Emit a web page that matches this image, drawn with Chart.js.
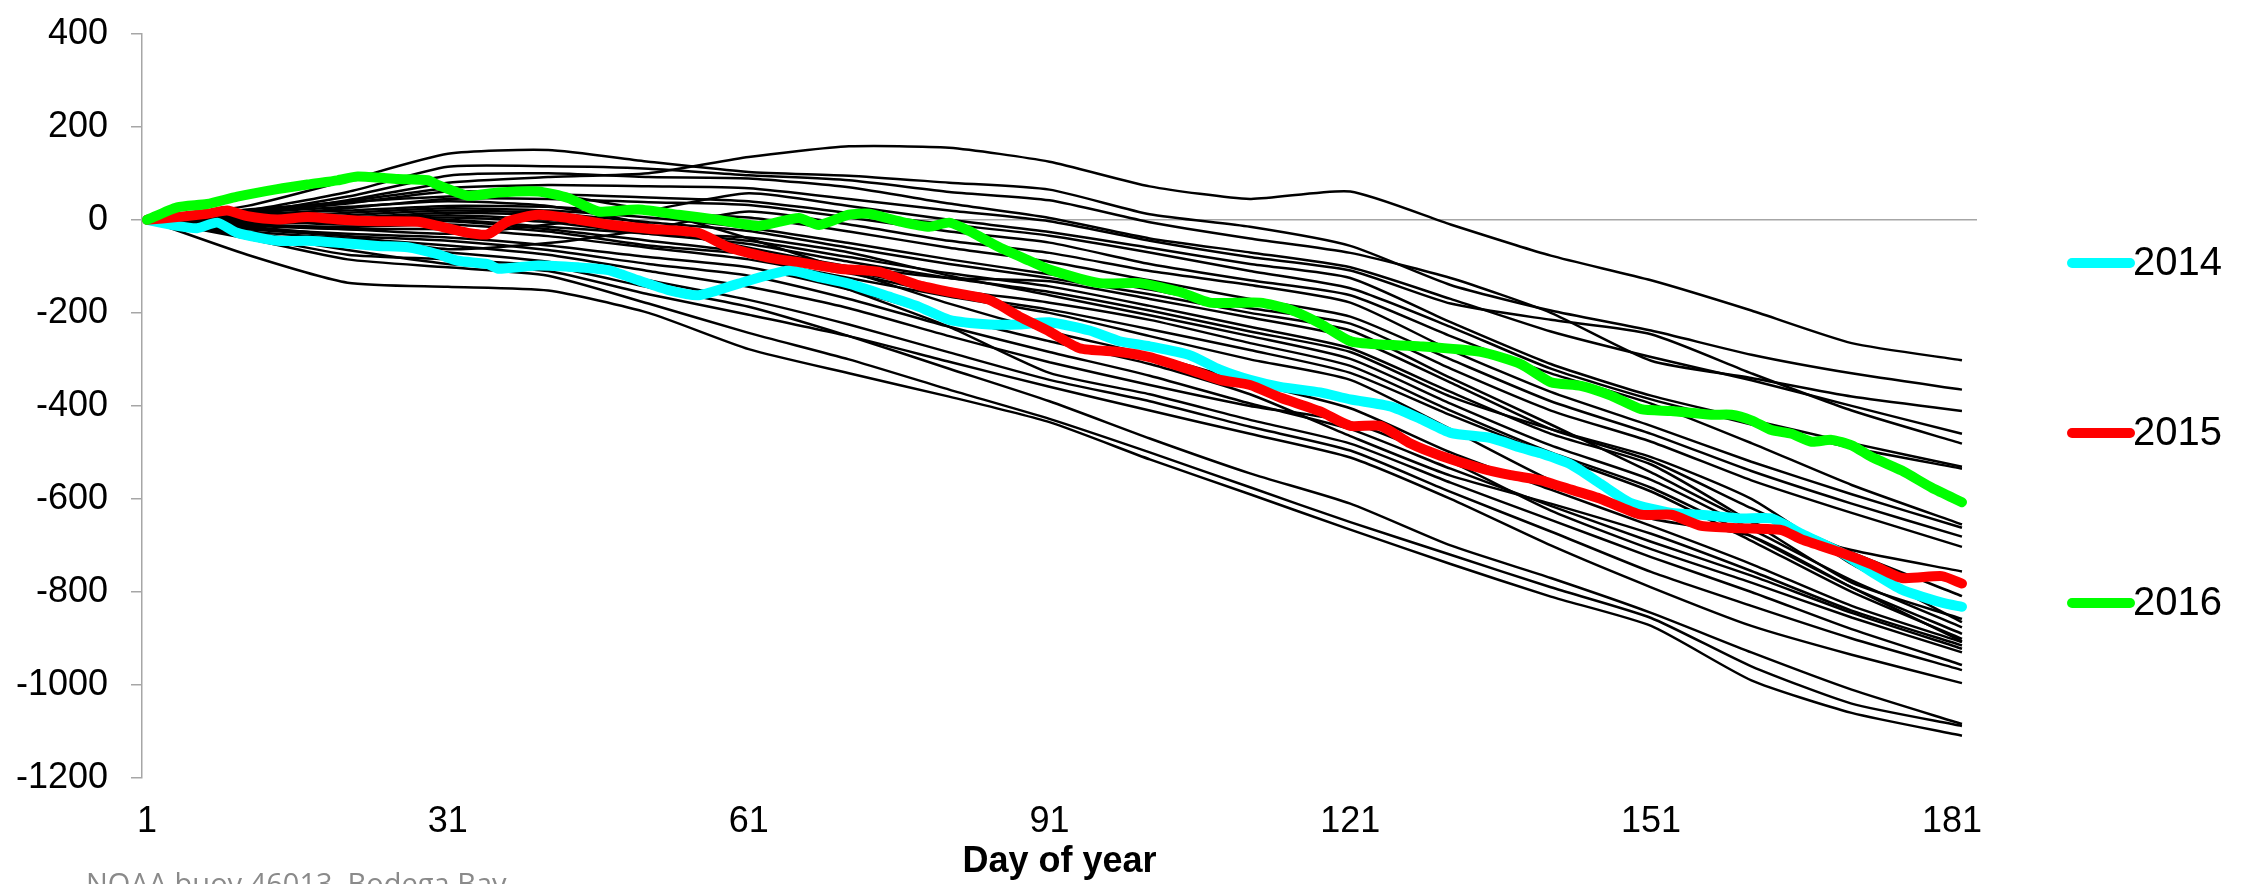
<!DOCTYPE html>
<html>
<head>
<meta charset="utf-8">
<script src="https://cdn.jsdelivr.net/npm/chart.js@4.4.1/dist/chart.umd.min.js"></script>
<style>
  html, body { margin: 0; padding: 0; background: #fff; }
  #wrap { width: 2254px; height: 884px; position: relative; }
</style>
</head>
<body>
<div id="wrap"><canvas id="chart"></canvas></div>
<script>
const blackDays = [1, 11, 21, 31, 41, 51, 61, 71, 81, 91, 101, 111, 121, 131, 141, 151, 161, 171, 182];

// other years (black), cumulative values at blackDays
const year01 = [0, 12, 42, 80, 92, 100, 135, 158, 155, 125, 72, 45, 61, -10, -77, -130, -195, -265, -302];
const year02 = [0, 30, 85, 142, 150, 125, 103, 95, 80, 65, 12, -15, -56, -140, -195, -238, -290, -330, -365];
const year03 = [0, 20, 60, 114, 115, 110, 96, 85, 60, 42, -5, -40, -71, -125, -200, -303, -340, -380, -411];
const year04 = [0, 15, 50, 95, 100, 92, 89, 70, 35, 4, -40, -70, -102, -170, -240, -295, -345, -400, -460];
const year05 = [0, 18, 40, 68, 75, 72, 68, 45, 20, -3, -45, -80, -109, -180, -215, -246, -330, -410, -481];
const year06 = [0, -10, -20, -30, -10, 20, 57, 30, 0, -26, -60, -95, -125, -220, -310, -378, -430, -480, -531];
const year07 = [0, 22, 38, 50, 55, 48, 40, 15, -10, -34, -70, -110, -147, -230, -320, -386, -440, -490, -535];
const year08 = [0, 8, 25, 45, 45, 38, 32, 5, -25, -49, -95, -130, -162, -250, -330, -395, -480, -570, -655];
const year09 = [0, -15, -35, -63, -50, -20, 18, -10, -45, -71, -110, -140, -178, -280, -370, -443, -520, -590, -662];
const year10 = [0, 12, 20, 30, 28, 15, 5, -25, -60, -90, -130, -170, -208, -300, -390, -460, -540, -610, -681];
const year11 = [0, 3, 15, 25, 20, 5, -17, -50, -85, -117, -150, -190, -223, -320, -410, -477, -560, -630, -703];
const year12 = [0, -2, 10, 20, 15, -5, -24, -60, -95, -125, -160, -200, -238, -340, -440, -543, -650, -710, -756];
const year13 = [0, 6, 5, 15, 10, -15, -60, -100, -125, -132, -170, -210, -253, -350, -450, -518, -620, -715, -809];
const year14 = [0, -5, 2, 10, 0, -25, -45, -80, -115, -143, -185, -230, -276, -370, -460, -526, -650, -780, -858];
const year15 = [0, 0, -2, 5, -5, -30, -52, -90, -125, -155, -195, -240, -284, -380, -450, -510, -600, -740, -865];
const year16 = [0, -8, -5, 0, -15, -30, -38, -70, -120, -162, -205, -250, -299, -395, -485, -559, -665, -775, -876];
const year17 = [0, -3, -10, -3, -20, -45, -70, -110, -150, -178, -215, -265, -314, -410, -500, -576, -680, -790, -890];
const year18 = [0, -10, -15, -10, -25, -55, -74, -115, -160, -193, -235, -280, -329, -420, -505, -584, -690, -800, -901];
const year19 = [0, -12, -20, -20, -35, -60, -85, -125, -165, -200, -250, -300, -344, -450, -560, -642, -680, -790, -906];
const year20 = [0, 15, 35, 61, 55, 20, -40, -110, -180, -240, -290, -350, -405, -500, -580, -658, -740, -830, -908];
const year21 = [0, -18, -30, -38, -55, -80, -102, -150, -210, -261, -310, -375, -465, -550, -610, -675, -755, -840, -915];
const year22 = [0, -20, -35, -45, -65, -95, -120, -170, -230, -284, -335, -395, -450, -535, -615, -692, -765, -845, -922];
const year23 = [0, -25, -40, -55, -75, -110, -144, -190, -250, -306, -355, -400, -435, -520, -625, -708, -780, -855, -930];
const year24 = [0, 15, 28, 40, 30, -10, -70, -150, -230, -329, -375, -430, -481, -565, -645, -725, -800, -880, -957];
const year25 = [0, -28, -55, -70, -90, -130, -172, -225, -285, -344, -390, -445, -496, -585, -670, -757, -830, -900, -968];
const year26 = [0, -30, -65, -95, -110, -160, -204, -250, -305, -359, -410, -460, -511, -600, -700, -790, -873, -935, -996];
const year27 = [0, -35, -75, -85, -100, -145, -187, -250, -320, -390, -470, -545, -610, -700, -770, -845, -930, -1010, -1084];
const year28 = [0, -40, -85, -102, -120, -180, -243, -300, -365, -428, -500, -575, -650, -720, -790, -856, -960, -1040, -1088];
const year29 = [0, -75, -135, -144, -152, -200, -278, -330, -380, -435, -515, -590, -666, -740, -810, -873, -990, -1060, -1109];

const otherYears = [year01, year02, year03, year04, year05, year06, year07, year08, year09, year10,
  year11, year12, year13, year14, year15, year16, year17, year18, year19, year20,
  year21, year22, year23, year24, year25, year26, year27, year28, year29];

// highlighted years
const days2014 = [1, 4, 6, 8, 10, 14, 17, 20, 24, 27, 30, 32, 35, 36, 40, 44, 47, 50, 53, 56, 60, 65, 68, 71, 75, 78, 81, 85, 88, 91,
  95, 98, 101, 105, 108, 111, 114, 118, 121, 125, 128, 131, 135, 138, 140, 143, 146, 149, 153, 156, 160, 163, 166, 170, 173, 176, 180, 182];
const vals2014 = [0, -13, -18, -6, -28, -45, -45, -49, -56, -59, -74, -88, -95, -105, -98, -102, -108, -130, -151, -162, -137, -109, -123, -137, -165, -187, -215, -225, -225, -220,
  -238, -261, -272, -291, -322, -344, -359, -371, -386, -401, -428, -458, -469, -490, -502, -526, -568, -609, -630, -634, -642, -642, -675, -716, -757, -795, -823, -832];

const days2015 = [1, 4, 7, 9, 11, 14, 17, 20, 24, 28, 30, 33, 35, 37, 40, 43, 47, 51, 56, 59, 63, 66, 70, 74, 78, 81, 85, 88, 91, 94,
  98, 101, 105, 108, 111, 114, 118, 121, 124, 127, 130, 134, 137, 140, 143, 146, 150, 153, 156, 160, 164, 166, 170, 173, 176, 180, 182];
const vals2015 = [0, 6, 13, 20, 8, 1, 6, 1, -3, -4, -13, -28, -31, -3, 11, 4, -10, -19, -28, -59, -81, -91, -105, -112, -141, -155, -172, -208, -240, -276,
  -284, -295, -322, -344, -355, -382, -412, -443, -443, -481, -507, -534, -549, -560, -580, -600, -634, -634, -658, -663, -667, -687, -716, -741, -770, -766, -782];

const days2016 = [1, 4, 7, 10, 14, 17, 20, 22, 26, 29, 30, 33, 36, 40, 43, 46, 50, 54, 58, 62, 66, 68, 71, 73, 76, 79, 81, 83, 86, 89,
  91, 96, 100, 104, 107, 112, 115, 118, 121, 124, 128, 134, 138, 141, 144, 147, 150, 153, 157, 159, 161, 163, 165, 167, 169, 171, 173, 176, 179, 182];
const vals2016 = [0, 27, 34, 50, 66, 76, 85, 93, 88, 85, 75, 52, 59, 61, 47, 18, 22, 11, 0, -13, 4, -11, 11, 13, -3, -15, -6, -24, -59, -88,
  -107, -136, -136, -155, -178, -178, -193, -223, -261, -268, -272, -284, -310, -349, -357, -378, -407, -411, -419, -419, -431, -452, -460, -477, -473, -485, -510, -539, -576, -607];

const xTickDays = [1, 31, 61, 91, 121, 151, 181];
const yTicks = [-1200, -1000, -800, -600, -400, -200, 0, 200, 400];

function toPoints(days, vals) {
  return vals.map((v, i) => ({ x: days[i], y: v }));
}

let datasets = [];
for (let vals of otherYears) {
  datasets.push({
    data: toPoints(blackDays, vals),
    borderColor: '#000000',
    borderWidth: 2.5,
    pointRadius: 0,
    tension: 0.2,
    order: 4,
    highlight: false
  });
}
datasets.push({ label: '2014', data: toPoints(days2014, vals2014), borderColor: '#00ffff', order: 3, highlight: true });
datasets.push({ label: '2015', data: toPoints(days2015, vals2015), borderColor: '#ff0000', order: 2, highlight: true });
datasets.push({ label: '2016', data: toPoints(days2016, vals2016), borderColor: '#00ff00', order: 1, highlight: true });
for (let ds of datasets) {
  if (ds.highlight) {
    ds.borderWidth = 10;
    ds.pointRadius = 0;
    ds.tension = 0.2;
    ds.borderCapStyle = 'round';
    ds.borderJoinStyle = 'round';
  }
}

// legend and source note drawn next to the plot
const sideNotes = {
  id: 'sideNotes',
  afterDraw(chart) {
    const c = chart.ctx;
    c.save();
    let y = 263;
    for (let ds of chart.data.datasets) {
      if (!ds.highlight) continue;
      c.strokeStyle = ds.borderColor;
      c.lineWidth = 10;
      c.lineCap = 'round';
      c.beginPath();
      c.moveTo(2072, y);
      c.lineTo(2130, y);
      c.stroke();
      c.fillStyle = '#000';
      c.font = '40px "Liberation Sans"';
      c.textBaseline = 'middle';
      c.textAlign = 'left';
      c.fillText(ds.label, 2133, y + 1);
      y += 170;
    }
    c.fillStyle = '#8a8a8a';
    c.font = '29px "Open Sans"';
    c.textBaseline = 'alphabetic';
    c.fillText('NOAA buoy 46013, Bodega Bay', 86, 894);
    c.restore();
  }
};

Chart.defaults.font.family = '"Liberation Sans", Arial, sans-serif';
Chart.defaults.color = '#000';

const ctx = document.getElementById('chart');
new Chart(ctx, {
  type: 'line',
  data: { datasets: datasets },
  options: {
    responsive: true,
    maintainAspectRatio: false,
    devicePixelRatio: 1,
    animation: false,
    layout: { autoPadding: false, padding: { left: 0, right: 277, top: 23, bottom: 0 } },
    plugins: {
      legend: { display: false },
      tooltip: { enabled: false }
    },
    scales: {
      x: {
        type: 'linear',
        min: 0.5,
        max: 183.5,
        afterBuildTicks: s => { s.ticks = xTickDays.map(v => ({ value: v })); },
        afterFit: s => { s.height = 106; },
        ticks: {
          font: { size: 36, lineHeight: 1.0 },
          color: '#000',
          padding: 26,
          autoSkip: false,
          maxRotation: 0,
          callback: v => String(v)
        },
        grid: { display: false, drawTicks: false },
        border: { display: false },
        title: {
          display: true,
          text: 'Day of year',
          color: '#000',
          font: { size: 36, weight: 'bold', lineHeight: 1.0 },
          padding: { top: 0, bottom: 4 }
        }
      },
      y: {
        min: -1200,
        max: 400,
        afterBuildTicks: s => { s.ticks = yTicks.map(v => ({ value: v })); },
        afterFit: s => { s.width = 142; },
        ticks: {
          font: { size: 36, lineHeight: 0.6 },
          color: '#000',
          padding: 23,
          callback: v => String(v)
        },
        grid: {
          color: c => (c.tick && c.tick.value === 0) ? '#a6a6a6' : 'rgba(0,0,0,0)',
          lineWidth: 1.5,
          tickLength: 11,
          tickColor: '#a6a6a6',
          drawTicks: true
        },
        border: { display: true, color: '#a6a6a6', width: 1.5 }
      }
    }
  },
  plugins: [sideNotes]
});
</script>
</body>
</html>
